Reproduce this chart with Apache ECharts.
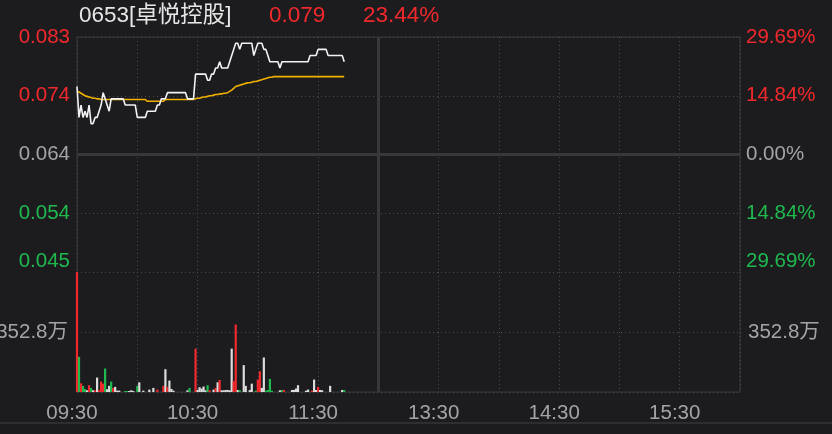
<!DOCTYPE html>
<html>
<head>
<meta charset="utf-8">
<title>0653 卓悦控股 分时</title>
<script src="https://cdn.jsdelivr.net/npm/echarts@6/dist/echarts.min.js"></script>
<style>
  html, body { margin: 0; padding: 0; background: #1c1c1f; }
  #main { width: 832px; height: 434px; }
</style>
</head>
<body>
<div id="main"></div>
<script>
// header
const stockName = '0653[卓悦控股]';
const lastPrice = '0.079';
const lastChange = '23.44%';
const prevClose = 0.064;
const limitPct = 29.69;

// tick labels
const leftPriceLabels = ['0.045', '0.054', '0.064', '0.074', '0.083'];
const rightPctLabels = ['29.69%', '14.84%', '0.00%', '14.84%', '29.69%'];
const volTickLabels = ['', '352.8万', ''];
const timeTicks = [0, 60, 120, 180, 240, 300];   // minutes since open (lunch break removed)
const timeLabels = ['09:30', '10:30', '11:30', '13:30', '14:30', '15:30'];

// minute prices 09:30 -> 11:43
const price = [
  0.075, 0.070, 0.072, 0.070, 0.071, 0.070, 0.072, 0.069, 0.069, 0.070,
  0.070, 0.071, 0.072, 0.074, 0.073, 0.072, 0.071, 0.073, 0.073, 0.073,
  0.073, 0.073, 0.073, 0.073, 0.072, 0.072, 0.072, 0.072, 0.072, 0.072,
  0.070, 0.070, 0.070, 0.070, 0.070, 0.071, 0.071, 0.071, 0.071, 0.071,
  0.072, 0.072, 0.073, 0.073, 0.073, 0.074, 0.074, 0.074, 0.074, 0.074,
  0.074, 0.074, 0.074, 0.074, 0.074, 0.073, 0.073, 0.073, 0.073, 0.077,
  0.077, 0.077, 0.077, 0.077, 0.077, 0.076, 0.076, 0.077, 0.077, 0.078,
  0.078, 0.079, 0.078, 0.078, 0.078, 0.078, 0.079, 0.080, 0.081, 0.082,
  0.082, 0.081, 0.082, 0.082, 0.082, 0.082, 0.082, 0.082, 0.080, 0.081,
  0.082, 0.082, 0.082, 0.081, 0.081, 0.080, 0.079, 0.079, 0.079, 0.079,
  0.079, 0.078, 0.079, 0.079, 0.079, 0.079, 0.079, 0.079, 0.079, 0.079,
  0.079, 0.079, 0.079, 0.079, 0.079, 0.079, 0.080, 0.080, 0.080, 0.080,
  0.081, 0.081, 0.081, 0.081, 0.081, 0.080, 0.080, 0.080, 0.080, 0.080,
  0.080, 0.080, 0.080, 0.079
];

// average price line
const avgPrice = [
  0.0742, 0.0741, 0.0739, 0.0737, 0.0735, 0.0734, 0.0733, 0.0732, 0.0731, 0.0731,
  0.0730, 0.0730, 0.0729, 0.0729, 0.0729, 0.0729, 0.0729, 0.0729, 0.0729, 0.0729,
  0.0729, 0.0729, 0.0729, 0.0729, 0.0729, 0.0729, 0.0729, 0.0729, 0.0729, 0.0729,
  0.0729, 0.0729, 0.0729, 0.0729, 0.0729, 0.0726, 0.0726, 0.0726, 0.0726, 0.0726,
  0.0726, 0.0726, 0.0726, 0.0726, 0.0729, 0.0729, 0.0729, 0.0729, 0.0729, 0.0729,
  0.0729, 0.0729, 0.0729, 0.0729, 0.0729, 0.0729, 0.0729, 0.0729, 0.0729, 0.0730,
  0.0731, 0.0731, 0.0732, 0.0733, 0.0733, 0.0734, 0.0735, 0.0735, 0.0736, 0.0737,
  0.0737, 0.0738, 0.0738, 0.0739, 0.0739, 0.0740, 0.0742, 0.0744, 0.0747, 0.0750,
  0.0751, 0.0752, 0.0753, 0.0754, 0.0755, 0.0756, 0.0756, 0.0757, 0.0758, 0.0758,
  0.0759, 0.0760, 0.0761, 0.0762, 0.0763, 0.0764, 0.0765, 0.0765, 0.0766, 0.0766,
  0.0766, 0.0766, 0.0766, 0.0766, 0.0766, 0.0766, 0.0766, 0.0766, 0.0766, 0.0766,
  0.0766, 0.0766, 0.0766, 0.0766, 0.0766, 0.0766, 0.0766, 0.0766, 0.0766, 0.0766,
  0.0766, 0.0766, 0.0766, 0.0766, 0.0766, 0.0766, 0.0766, 0.0766, 0.0766, 0.0766,
  0.0766, 0.0766, 0.0766, 0.0766
];

// volume per minute, 万股
const volume = [
  705, 207, 51, 36, 18, 10, 40, 24, 10, 10,
  85, 10, 61, 49, 138, 16, 36, 61, 24, 30,
  8, 8, 0, 0, 6, 6, 6, 10, 6, 0,
  36, 57, 0, 8, 0, 0, 14, 0, 24, 0,
  14, 0, 0, 36, 134, 30, 67, 18, 8, 0,
  0, 0, 0, 0, 0, 10, 24, 0, 0, 255,
  12, 28, 20, 32, 10, 40, 10, 0, 14, 24,
  57, 71, 10, 10, 12, 12, 10, 255, 65, 397,
  12, 10, 0, 158, 36, 0, 12, 49, 0, 8,
  73, 122, 24, 203, 8, 12, 77, 8, 0, 0,
  0, 10, 12, 12, 0, 0, 0, 12, 12, 20,
  40, 0, 0, 0, 8, 14, 0, 8, 73, 12,
  30, 12, 10, 0, 0, 0, 36, 0, 0, 0,
  0, 0, 12, 12
];
// u = up (red), d = down (green), f = flat (white), one char per minute
const volDir = [
  'ududdfudfu', 'fuuudffduf', 'ffffddffff', 'dffffffuff', 'uffufuffff',
  'ffffffdffu', 'fffffduffu', 'fuffffffuu', 'fdfffffffd',
  'uuffddddff', 'ffduffffff', 'fffffffuff', 'uffffffdff', 'fffd'
].join('');

const RED = '#f2292c';
const GREEN = '#1fb94e';
const GREY = '#a4a4a8';
const WHITE = '#e6e6e6';
const FRAME = '#38383b';
const DOT = '#4a4a4e';
const FONT = 'Helvetica, "Liberation Sans", Arial, "Noto Sans CJK SC", sans-serif';
const AXIS_FS = 20.5;
const TITLE_FS = 22.5;

const chart = echarts.init(document.getElementById('main'), null, { renderer: 'canvas' });

const toPct = (p) => (p / prevClose - 1) * 100;
const pctColor = (i) => (i > 2 ? RED : i < 2 ? GREEN : GREY);

const dirColor = { u: RED, d: GREEN, f: '#dcdcdc' };

const option = {
  backgroundColor: '#1c1c1f',
  animation: false,
  textStyle: { fontFamily: FONT },
  title: [
    { text: stockName, left: 79, top: 5, padding: 0,
      textStyle: { color: WHITE, fontSize: TITLE_FS, fontWeight: 'normal', fontFamily: FONT } },
    { text: lastPrice, left: 269, top: 5, padding: 0,
      textStyle: { color: RED, fontSize: TITLE_FS, fontWeight: 'normal', fontFamily: FONT } },
    { text: lastChange, left: 363, top: 5, padding: 0,
      textStyle: { color: RED, fontSize: TITLE_FS, fontWeight: 'normal', fontFamily: FONT } }
  ],
  graphic: [
    { type: 'line', shape: { x1: 0, y1: 423, x2: 832, y2: 423 },
      style: { stroke: '#2e2e32', lineWidth: 2 }, silent: true }
  ],
  grid: [
    { left: 77, right: 92, top: 37, height: 235, show: false, outerBoundsMode: 'none', containLabel: false },
    { left: 77, right: 92, top: 272, height: 120, show: false, outerBoundsMode: 'none', containLabel: false },
    { left: 77, right: 92, top: 37, height: 355, show: true, outerBoundsMode: 'none', containLabel: false,
      borderColor: FRAME, borderWidth: 1, backgroundColor: 'transparent' }
  ],
  xAxis: [
    { type: 'value', gridIndex: 0, min: 0, max: 330, interval: 30,
      axisLine: { show: false }, axisTick: { show: false }, axisLabel: { show: false },
      splitLine: { show: true, lineStyle: { color: DOT, type: [1, 3], width: 1 } } },
    { type: 'value', gridIndex: 1, min: 0, max: 330, interval: 30,
      axisLine: { show: false }, axisTick: { show: false },
      axisLabel: {
        show: true, color: GREY, fontSize: AXIS_FS, margin: 11, fontFamily: FONT,
        padding: [0, 10, 0, 0],
        formatter: (v) => {
          const k = timeTicks.indexOf(Math.round(v));
          return k >= 0 ? timeLabels[k] : '';
        }
      },
      splitLine: { show: true, lineStyle: { color: DOT, type: [1, 3], width: 1 } } },
    { type: 'value', gridIndex: 2, min: 0, max: 1, show: false }
  ],
  yAxis: [
    { type: 'value', gridIndex: 0, position: 'left', min: -limitPct, max: limitPct, interval: limitPct / 2,
      axisLine: { show: false }, axisTick: { show: false },
      axisLabel: { color: (v, i) => pctColor(i), fontSize: AXIS_FS, margin: 7, fontFamily: FONT,
        verticalAlignMinLabel: 'bottom',
        formatter: (v, i) => leftPriceLabels[i] },
      splitLine: { show: true, lineStyle: { color: DOT, type: [1, 3], width: 1 } } },
    { type: 'value', gridIndex: 0, position: 'right', min: -limitPct, max: limitPct, interval: limitPct / 2,
      axisLine: { show: false }, axisTick: { show: false },
      axisLabel: { color: (v, i) => pctColor(i), fontSize: AXIS_FS, margin: 6, fontFamily: FONT,
        verticalAlignMinLabel: 'bottom',
        formatter: (v, i) => rightPctLabels[i] },
      splitLine: { show: false } },
    { type: 'value', gridIndex: 1, position: 'left', min: 0, max: 705.6, interval: 352.8,
      axisLine: { show: false }, axisTick: { show: false },
      axisLabel: { color: GREY, fontSize: AXIS_FS, margin: 9, fontFamily: FONT,
        formatter: (v, i) => volTickLabels[i] },
      splitLine: { show: true, lineStyle: { color: DOT, type: [1, 3], width: 1 } } },
    { type: 'value', gridIndex: 1, position: 'right', min: 0, max: 705.6, interval: 352.8,
      axisLine: { show: false }, axisTick: { show: false },
      axisLabel: { color: GREY, fontSize: AXIS_FS, margin: 8, fontFamily: FONT,
        formatter: (v, i) => volTickLabels[i] },
      splitLine: { show: false } },
    { type: 'value', gridIndex: 2, min: 0, max: 1, show: false }
  ],
  series: [
    {
      name: 'price', type: 'line', xAxisIndex: 0, yAxisIndex: 0,
      data: price.map((p, i) => [i, toPct(p)]),
      showSymbol: false, symbol: 'none',
      lineStyle: { color: '#f2f2f2', width: 1.6 },
      z: 5,
      markLine: {
        silent: true, symbol: 'none', label: { show: false },
        lineStyle: { color: FRAME, width: 3, type: 'solid' },
        data: [{ yAxis: 0 }, { xAxis: 150 }]
      }
    },
    {
      name: 'avg', type: 'line', xAxisIndex: 0, yAxisIndex: 0,
      data: avgPrice.map((p, i) => [i, toPct(p)]),
      showSymbol: false, symbol: 'none',
      lineStyle: { color: '#f0b000', width: 1.6 },
      z: 4
    },
    {
      name: 'volume', type: 'bar', xAxisIndex: 1, yAxisIndex: 2,
      data: volume.map((v, i) => [i, v]),
      barWidth: 2.2,
      itemStyle: { color: (p) => dirColor[volDir[p.dataIndex]] || '#dcdcdc' },
      markLine: {
        silent: true, symbol: 'none', label: { show: false },
        lineStyle: { color: FRAME, width: 3, type: 'solid' },
        data: [{ xAxis: 150 }]
      }
    }
  ]
};

chart.setOption(option);
</script>
</body>
</html>
